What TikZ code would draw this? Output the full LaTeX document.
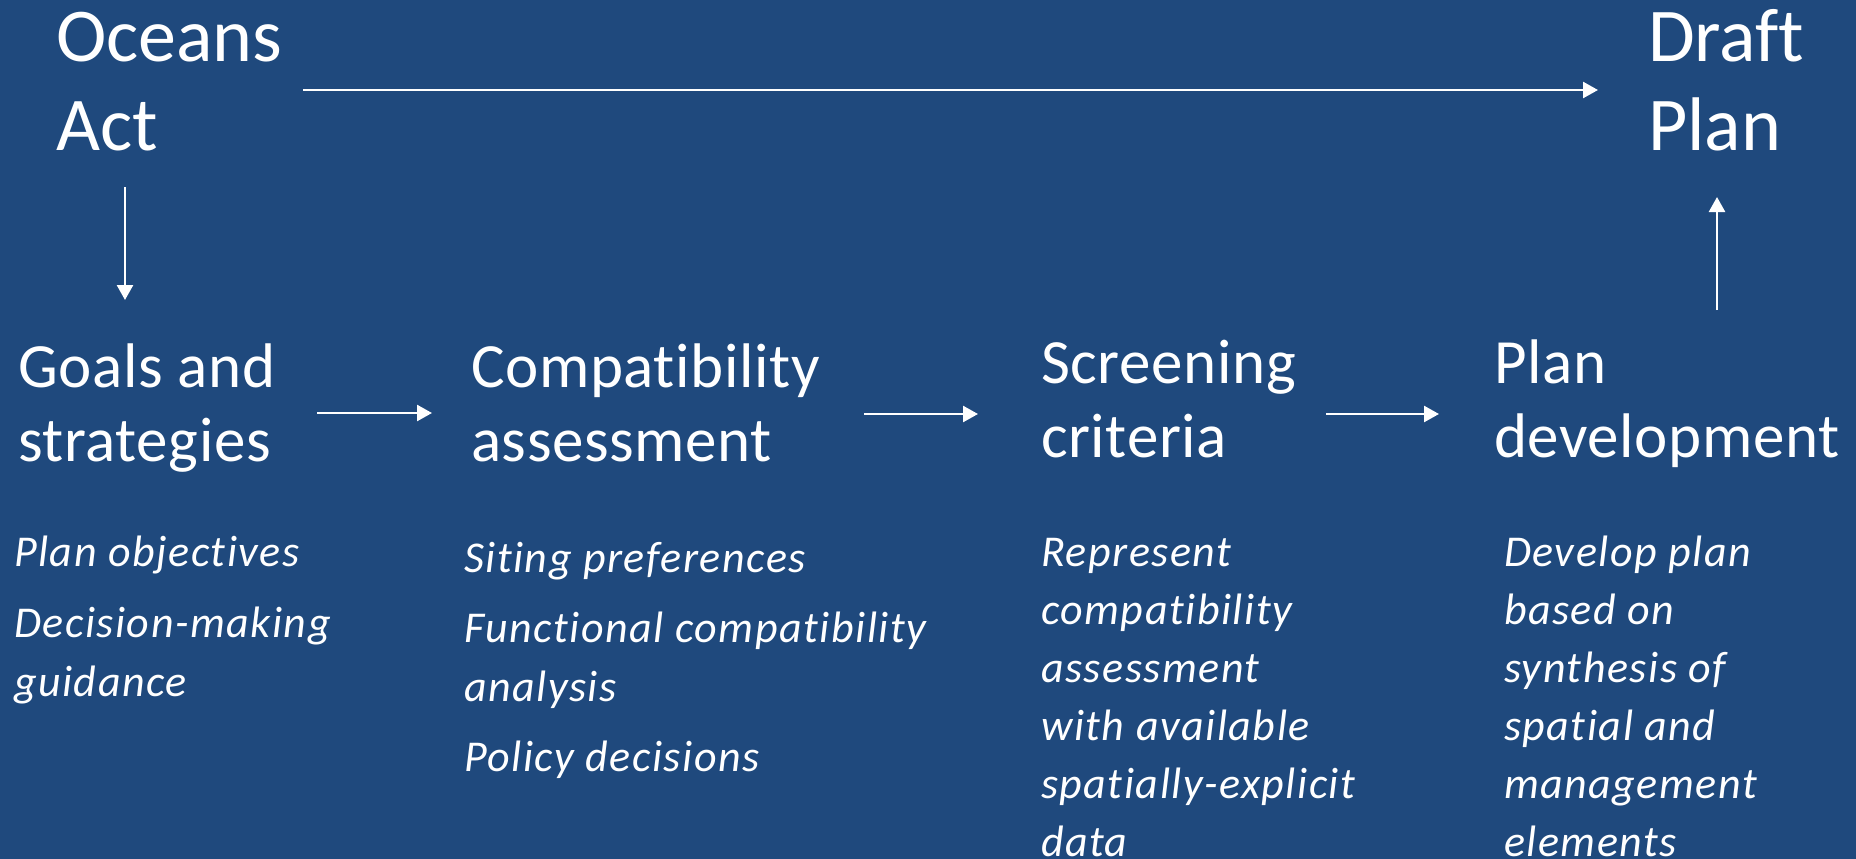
\documentclass[tikz,border=0pt]{standalone}
\usepackage{fontspec}
\setmainfont{Carlito}[Ligatures=NoCommon]
\newfontfamily\headfont{Carlito}[LetterSpace=1.0,Ligatures=NoCommon]
\newfontfamily\descfont{Carlito}[LetterSpace=3.5,Ligatures=NoCommon]
\usetikzlibrary{arrows.meta}
\definecolor{bg}{HTML}{1F497D}
\newcommand{\blk}[1]{\begin{tabular}[t]{@{}l@{}}#1\end{tabular}}
\begin{document}
\begin{tikzpicture}[x=1pt,y=-1pt,
  txt/.style={anchor=base west, inner sep=0pt, outer sep=0pt, text=white},
  big/.style={txt, font=\fontsize{76}{89}\selectfont},
  head/.style={txt, font=\headfont\fontsize{63}{74}\selectfont},
  desc/.style={txt, font=\descfont\fontsize{44}{58.5}\selectfont\itshape},
  descn/.style={txt, font=\descfont\fontsize{44}{58}\selectfont\itshape},
  arr/.style={draw=white, line width=2.5pt, -{Triangle[length=15pt,width=16pt]}}]
\fill[bg] (0,0) rectangle (1856,859);
\useasboundingbox (0,0) rectangle (1856,859);

\node[big] (oceans) at (56,62) {\blk{Oceans\\Act}};
\node[big] (draft) at (1648,62) {\blk{Draft\\Plan}};

\node[head] (goals) at (18,387) {\blk{Goals and\\strategies}};
\node[head] (compat) at (471,387) {\blk{Compatibility\\assessment}};
\node[head] (screen) at (1041,383) {\blk{Screening\\criteria}};
\node[head] (plandev) at (1494,383) {\blk{Plan\\development}};

\node[desc] (d1) at (14,566) {\blk{Plan objectives\\[13pt]Decision-making\\guidance}};
\node[desc] (d2) at (464,572) {\blk{Siting preferences\\[12pt]Functional compatibility\\analysis\\[12pt]Policy decisions}};
\node[descn] (d3) at (1041,566) {\blk{Represent\\compatibility\\assessment\\with available\\spatially-explicit\\data}};
\node[descn] (d4) at (1504,566) {\blk{Develop plan\\based on\\synthesis of\\spatial and\\management\\elements}};

\coordinate (topS) at (303,90);
\coordinate (topE) at (1598,90);
\coordinate (downS) at (125,187);
\coordinate (downE) at (125,300);
\coordinate (upS) at (1717,310);
\coordinate (upE) at (1717,197);
\coordinate (h1S) at (317,413);
\coordinate (h1E) at (432,413);
\coordinate (h2S) at (864,414);
\coordinate (h2E) at (978,414);
\coordinate (h3S) at (1326,414);
\coordinate (h3E) at (1439,414);

\draw[arr] (topS) -- (topE);
\draw[arr] (downS) -- (downE);
\draw[arr] (upS) -- (upE);
\draw[arr] (h1S) -- (h1E);
\draw[arr] (h2S) -- (h2E);
\draw[arr] (h3S) -- (h3E);
\end{tikzpicture}
\end{document}
